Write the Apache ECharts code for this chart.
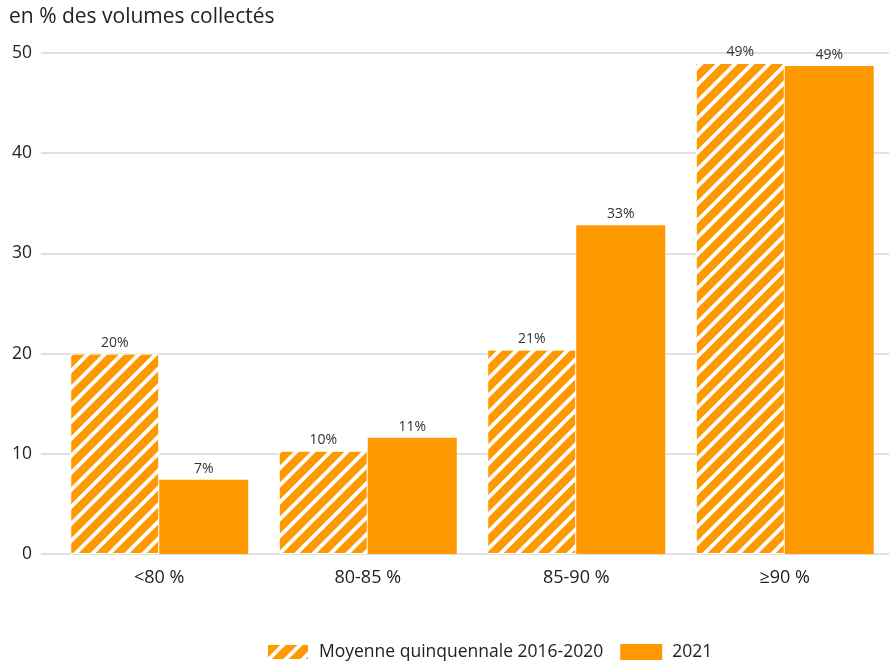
<!DOCTYPE html>
<html><head><meta charset="utf-8">
<script src="https://cdn.jsdelivr.net/npm/echarts@6/dist/echarts.min.js"></script>
<style>html,body{margin:0;padding:0;background:#fff}#c{width:889px;height:662px}</style>
</head><body><div id="c"></div>
<script>
const categories = ['<80 %', '80-85 %', '85-90 %', '≥90 %'];
const seriesNames = ['Moyenne quinquennale 2016-2020', '2021'];
const avgValues = [20.0, 10.3, 20.4, 49.0];
const avgLabels = ['20%', '10%', '21%', '49%'];
const y2021Values = [7.4, 11.6, 32.8, 48.7];
const y2021Labels = ['7%', '11%', '33%', '49%'];
const yTicks = [0, 10, 20, 30, 40, 50];

const orange = '#ff9900';
function hatch() {
  const s = 17;
  const c = document.createElement('canvas');
  c.width = s; c.height = s;
  const g = c.getContext('2d');
  g.fillStyle = orange; g.fillRect(0, 0, s, s);
  g.strokeStyle = '#ffffff'; g.lineWidth = 3.8;
  g.beginPath();
  g.moveTo(-s, s); g.lineTo(s, -s);
  g.moveTo(0, s * 2); g.lineTo(s * 2, 0);
  g.moveTo(0, s); g.lineTo(s, 0);
  g.stroke();
  return c;
}
const pattern = { image: hatch(), repeat: 'repeat' };
const font = "'Open Sans', 'Noto Sans', sans-serif";

const chart = echarts.init(document.getElementById('c'));
chart.setOption({
  animation: false,
  textStyle: { fontFamily: font },
  title: { text: 'en % des volumes collectés', left: 4, top: 2,
    textStyle: { fontSize: 21, fontWeight: 'normal', color: '#222', fontFamily: font } },
  grid: { left: 55, right: 0, top: 53, bottom: 108 },
  legend: { top: 638, left: 261, itemWidth: 42, itemHeight: 16, itemGap: 17,
    icon: 'rect',
    textStyle: { fontSize: 17.5, color: '#222', fontFamily: font, padding: [0, 0, 0, 5] },
    data: seriesNames },
  xAxis: { type: 'category', data: categories,
    axisLine: { show: false }, axisTick: { show: false },
    axisLabel: { fontSize: 18, color: '#222', margin: 15, fontFamily: font } },
  yAxis: { type: 'value', min: yTicks[0], max: yTicks[yTicks.length - 1], interval: 10,
    axisLine: { show: false },
    axisTick: { show: true, length: 14, lineStyle: { color: '#e0e0e0', width: 2 } },
    splitLine: { lineStyle: { color: '#e0e0e0', width: 2 } },
    axisLabel: { fontSize: 17.5, color: '#222', margin: 23, fontFamily: font } },
  series: [
    { name: seriesNames[0], type: 'bar', data: avgValues, barWidth: 89, barGap: 0,
      itemStyle: { color: pattern, borderColor: '#fff', borderWidth: 1 },
      label: { show: true, position: 'top', distance: 4, fontSize: 14, color: '#333',
        formatter: p => avgLabels[p.dataIndex] } },
    { name: seriesNames[1], type: 'bar', data: y2021Values, barWidth: 89, barGap: 0,
      itemStyle: { color: orange },
      label: { show: true, position: 'top', distance: 4, fontSize: 14, color: '#333',
        formatter: p => y2021Labels[p.dataIndex] } }
  ]
});
</script></body></html>
